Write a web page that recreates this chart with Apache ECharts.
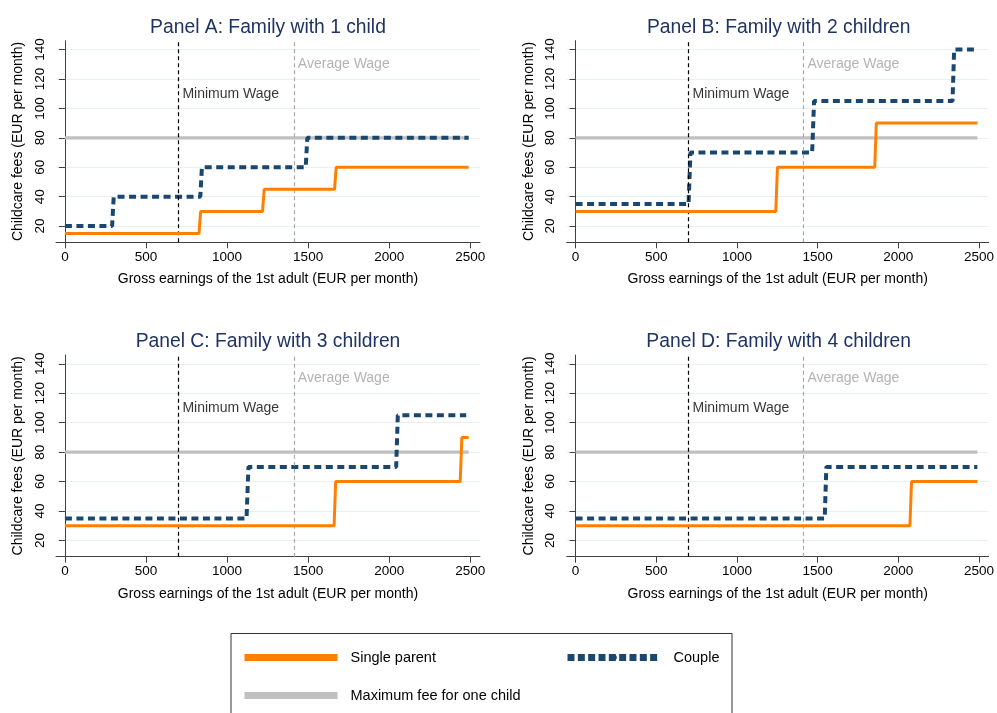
<!DOCTYPE html>
<html><head><meta charset="utf-8">
<script src="https://cdn.jsdelivr.net/npm/echarts@6/dist/echarts.min.js"></script>
<style>html,body{margin:0;padding:0;background:#fff}#c{width:997px;height:713px}</style>
</head><body><div id="c"></div>
<script>
// ---- data ----
const panelTitles = ['Panel A: Family with 1 child','Panel B: Family with 2 children','Panel C: Family with 3 children','Panel D: Family with 4 children'];
const xTicks = [0, 500, 1000, 1500, 2000, 2500];
const yTicks = [20, 40, 60, 80, 100, 120, 140];
const minimumWage = 700;
const averageWage = 1412;
const minWageLabelY = 110;
const avgWageLabelY = 130;
const maxFeeOneChild = [[0, 80], [2490, 80]];

const singleA = [[0,15],[827,15],[837,30],[1219,30],[1229,45],[1663,45],[1673,60],[2490,60]];
const coupleA = [[0,20],[291,20],[301,40],[835,40],[845,60],[1485,60],[1495,80],[2490,80]];
const singleB = [[0,30],[1241,30],[1251,60],[1854,60],[1864,90],[2490,90]];
const coupleB = [[0,35],[700,35],[712,70],[1466,70],[1478,105],[2336,105],[2346,140],[2490,140]];
const singleC = [[0,30],[1660,30],[1670,60],[2438,60],[2448,90],[2490,90]];
const coupleC = [[0,35],[1120,35],[1132,70],[2043,70],[2053,105],[2475,105]];
const singleD = [[0,30],[2072,30],[2082,60],[2490,60]];
const coupleD = [[0,35],[1544,35],[1554,70],[2490,70]];

const singleData = [singleA, singleB, singleC, singleD];
const coupleData = [coupleA, coupleB, coupleC, coupleD];

// ---- layout / style ----
const FONT = 'Liberation Sans, Arial, sans-serif';
const NAVY = '#1a476f';
const ORANGE = '#ff8000';
const GRAY = '#c0c0c0';
const grids = [
  {left: 56, top: 40.7, width: 424, height: 201.6},
  {left: 566.7, top: 40.7, width: 424, height: 201.6},
  {left: 56, top: 355, width: 424, height: 201.7},
  {left: 566.7, top: 355, width: 424, height: 201.7}
];

const xAxes = [], yAxes = [], series = [], graphics = [];
grids.forEach((g, i) => {
  xAxes.push({
    gridIndex: i, type: 'value', min: -55, max: 2560,
    axisLine: {show: true, lineStyle: {color: '#404040', width: 1}},
    axisTick: {show: true, length: 6, customValues: xTicks, lineStyle: {color: '#404040'}},
    axisLabel: {customValues: xTicks, fontSize: 13.5, color: '#000', margin: 8, fontFamily: FONT,
      formatter: v => String(v)},
    splitLine: {show: false},
    name: 'Gross earnings of the 1st adult (EUR per month)', nameLocation: 'middle', nameGap: 30,
    nameTextStyle: {fontSize: 14, color: '#000', fontFamily: FONT}
  });
  yAxes.push({
    gridIndex: i, type: 'value', min: 9, max: 146,
    axisLine: {show: true, lineStyle: {color: '#404040', width: 1}},
    axisTick: {show: true, length: 6, customValues: yTicks, lineStyle: {color: '#404040'}},
    axisLabel: {customValues: yTicks, rotate: 90, fontSize: 13.5, color: '#000', margin: 9, fontFamily: FONT,
      formatter: v => String(v)},
    splitLine: {show: true, lineStyle: {color: '#e9f0f2', width: 1}},
    name: 'Childcare fees (EUR per month)', nameLocation: 'middle', nameGap: 31,
    nameTextStyle: {fontSize: 14, color: '#000', fontFamily: FONT}
  });
  series.push({
    name: 'Maximum fee for one child', type: 'line', xAxisIndex: i, yAxisIndex: i,
    data: maxFeeOneChild, symbol: 'none', lineStyle: {color: GRAY, width: 3.3}, itemStyle: {color: GRAY}, z: 2
  });
  series.push({
    name: 'minWage', type: 'scatter', xAxisIndex: i, yAxisIndex: i,
    data: [[minimumWage, minWageLabelY]], symbolSize: 0,
    label: {show: true, position: 'right', distance: 4, formatter: 'Minimum Wage', color: '#000', fontSize: 14, fontFamily: FONT},
    markLine: {silent: true, symbol: ['none', 'none'], label: {show: false},
      lineStyle: {color: '#000', type: [4, 3], width: 1.2}, data: [{xAxis: minimumWage}]},
    z: 3
  });
  series.push({
    name: 'avgWage', type: 'scatter', xAxisIndex: i, yAxisIndex: i,
    data: [[averageWage, avgWageLabelY]], symbolSize: 0,
    label: {show: true, position: 'right', distance: 4, formatter: 'Average Wage', color: '#a0a0a0', fontSize: 14, fontFamily: FONT},
    markLine: {silent: true, symbol: ['none', 'none'], label: {show: false},
      lineStyle: {color: '#a8a8a8', type: [4, 3], width: 1.2}, data: [{xAxis: averageWage}]},
    z: 3
  });
  series.push({
    name: 'Couple', type: 'line', xAxisIndex: i, yAxisIndex: i,
    data: coupleData[i], symbol: 'none', lineStyle: {color: NAVY, width: 4, type: [7, 4.5]}, itemStyle: {color: NAVY}, z: 4
  });
  series.push({
    name: 'Single parent', type: 'line', xAxisIndex: i, yAxisIndex: i,
    data: singleData[i], symbol: 'none', lineStyle: {color: ORANGE, width: 3}, itemStyle: {color: ORANGE}, z: 5
  });
  graphics.push({
    type: 'text', x: g.left + g.width / 2, y: g.top - 13.5,
    style: {text: panelTitles[i], textAlign: 'center', textVerticalAlign: 'middle', fontSize: 19.3, fill: '#1f3364', fontFamily: FONT}
  });
});

graphics.push({type: 'rect', shape: {x: 231, y: 633.5, width: 501, height: 100}, style: {fill: 'none', stroke: '#333', lineWidth: 1}});

const legendBase = {itemWidth: 93, itemHeight: 7, selectedMode: false, orient: 'horizontal', padding: 0,
  textStyle: {fontSize: 14.5, color: '#000', fontFamily: FONT, padding: [0, 0, 0, 8]}};

const option = {
  animation: false,
  grid: grids,
  xAxis: xAxes,
  yAxis: yAxes,
  series: series,
  graphic: graphics,
  legend: [
    Object.assign({}, legendBase, {data: ['Single parent'], left: 241, top: 650, lineStyle: {width: 7}}),
    Object.assign({}, legendBase, {data: ['Couple'], left: 564, top: 650, lineStyle: {width: 7, type: [7, 3.33]}}),
    Object.assign({}, legendBase, {data: ['Maximum fee for one child'], left: 241, top: 688, lineStyle: {width: 7}})
  ]
};
const chart = echarts.init(document.getElementById('c'), null, {renderer: 'canvas'});
chart.setOption(option);
</script></body></html>
